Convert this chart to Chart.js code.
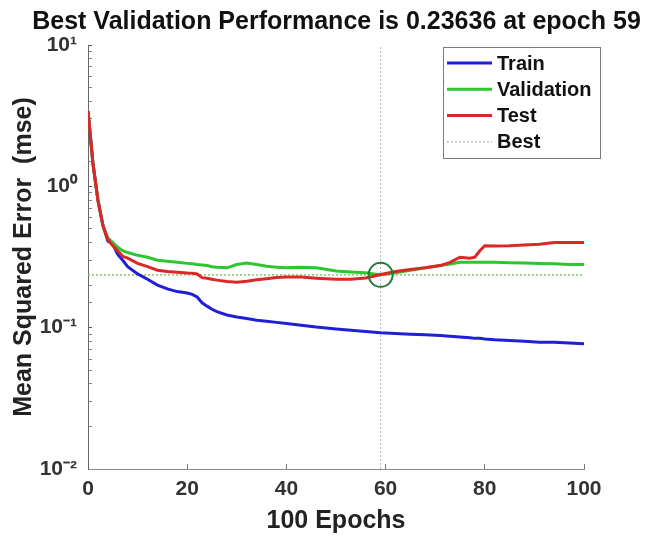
<!DOCTYPE html>
<html>
<head>
<meta charset="utf-8">
<script src="https://cdn.jsdelivr.net/npm/chart.js@4.4.1/dist/chart.umd.min.js"></script>
<style>
  html, body { margin: 0; padding: 0; background: #ffffff; }
  #wrap { width: 645px; height: 540px; }
</style>
</head>
<body>
<div id="wrap"><canvas id="c" width="645" height="540"></canvas></div>
<script>
// ---- data ----
const epochs = [0,1,2,3,4,5,6,7,8,10,12,14,16,18,20,21,22,23,24,25,26,28,30,32,34,36,38,40,43,46,50,53,56,59,62,65,68,71,73,75,77,78,79,80,82,85,88,91,94,97,100];
const trainMse = [3.4,1.45,0.8,0.53,0.41,0.39,0.33,0.30,0.27,0.24,0.22,0.20,0.188,0.18,0.176,0.172,0.165,0.15,0.142,0.135,0.13,0.123,0.119,0.116,0.113,0.111,0.109,0.107,0.104,0.101,0.098,0.096,0.094,0.092,0.091,0.090,0.089,0.088,0.087,0.086,0.085,0.084,0.084,0.083,0.082,0.081,0.080,0.079,0.079,0.078,0.077];
const validationMse = [3.4,1.45,0.8,0.53,0.43,0.40,0.37,0.35,0.34,0.325,0.315,0.30,0.295,0.29,0.285,0.283,0.28,0.278,0.275,0.27,0.268,0.265,0.28,0.287,0.28,0.272,0.268,0.265,0.268,0.265,0.252,0.248,0.245,0.23636,0.245,0.255,0.265,0.275,0.282,0.29,0.29,0.29,0.29,0.29,0.29,0.288,0.287,0.285,0.283,0.28,0.28];
const testMse = [3.4,1.45,0.8,0.53,0.42,0.38,0.35,0.32,0.31,0.285,0.27,0.255,0.25,0.247,0.244,0.243,0.24,0.226,0.224,0.22,0.217,0.212,0.21,0.213,0.218,0.222,0.226,0.228,0.228,0.224,0.22,0.22,0.225,0.238,0.25,0.258,0.265,0.275,0.29,0.315,0.31,0.315,0.35,0.38,0.378,0.38,0.385,0.39,0.40,0.40,0.40];
const bestEpoch = 59;
const bestPerf = 0.23636;
const xTickValues = [0,20,40,60,80,100];
const yRange = [0.01, 10];
const seriesNames = ['Train','Validation','Test','Best'];
const titleText = 'Best Validation Performance is 0.23636 at epoch 59';
const xTitle = '100 Epochs';
const yTitle = 'Mean Squared Error  (mse)';

const FONT = '"Liberation Sans", Arial, Helvetica, sans-serif';
const COLORS = { train: '#1f1fd6', val: '#2fc52f', test: '#dd2626', best: '#9a9a9a', bestH: '#8cc66a', circle: '#217a36' };

function pts(xs, ys) { return xs.map((x, i) => ({ x: x, y: ys[i] })); }

const sup = { '0':'\u2070','1':'\u00B9','2':'\u00B2','3':'\u00B3','-':'\u207B' };
function powLabel(v) {
  const l = Math.log10(v);
  const r = Math.round(l);
  if (Math.abs(l - r) > 1e-9) return '';
  return '10' + String(r).split('').map(ch => sup[ch] || ch).join('');
}

// custom boxed legend (MATLAB style)
const boxLegend = {
  id: 'boxLegend',
  afterDraw(chart) {
    const ctx = chart.ctx;
    const items = chart.data.datasets.filter(d => d.inLegend).sort((a, b) => a.legendOrder - b.legendOrder);
    const left = 443, top = 47, w = 157, rowH = 26.3;
    const h = 111;
    ctx.save();
    ctx.fillStyle = '#ffffff';
    ctx.fillRect(left, top, w, h);
    ctx.strokeStyle = '#7a7a7a';
    ctx.lineWidth = 1;
    ctx.strokeRect(left + 0.5, top + 0.5, w, h);
    ctx.font = 'bold 20px ' + FONT;
    ctx.textBaseline = 'middle';
    ctx.textAlign = 'left';
    items.forEach((d, i) => {
      const y = top + 16 + i * rowH;
      ctx.beginPath();
      ctx.setLineDash(d.legendDash || []);
      ctx.strokeStyle = d.legendColor || d.borderColor;
      ctx.lineWidth = d.legendWidth || d.borderWidth;
      ctx.moveTo(left + 4, y);
      ctx.lineTo(left + 49, y);
      ctx.stroke();
      ctx.setLineDash([]);
      ctx.fillStyle = '#111';
      ctx.fillText(d.label, left + 54, y + 1);
    });
    ctx.restore();
  }
};

const lineBase = { showLine: true, pointRadius: 0, pointHoverRadius: 0, fill: false, tension: 0, borderWidth: 3 };

new Chart(document.getElementById('c'), {
  type: 'scatter',
  data: {
    datasets: [
      { label: 'bestPoint', data: [{ x: bestEpoch, y: bestPerf }], showLine: false, pointRadius: 12, pointHoverRadius: 12,
        pointStyle: 'circle', backgroundColor: 'rgba(0,0,0,0)', borderColor: COLORS.circle, borderWidth: 2 },
      Object.assign({ label: seriesNames[2], data: pts(epochs, testMse), borderColor: COLORS.test, inLegend: true, legendOrder: 2 }, lineBase),
      Object.assign({ label: seriesNames[1], data: pts(epochs, validationMse), borderColor: COLORS.val, inLegend: true, legendOrder: 1 }, lineBase),
      Object.assign({ label: seriesNames[0], data: pts(epochs, trainMse), borderColor: COLORS.train, inLegend: true, legendOrder: 0 }, lineBase),
      Object.assign({}, lineBase, { label: seriesNames[3], data: [{ x: xTickValues[0], y: bestPerf }, { x: xTickValues[xTickValues.length - 1], y: bestPerf }],
        borderColor: COLORS.bestH, borderWidth: 1.5, borderDash: [2, 2], inLegend: true, legendOrder: 3,
        legendColor: COLORS.best, legendWidth: 1, legendDash: [2, 2] }),
      Object.assign({}, lineBase, { label: 'bestEpoch', data: [{ x: bestEpoch, y: yRange[0] }, { x: bestEpoch, y: yRange[1] }],
        borderColor: '#b5b5b5', borderWidth: 1, borderDash: [2, 2] })
    ]
  },
  options: {
    responsive: false,
    animation: false,
    devicePixelRatio: 1,
    layout: { padding: { left: 28, right: 0, top: 0, bottom: 0 } },
    plugins: {
      legend: { display: false },
      tooltip: { enabled: false },
      title: {
        display: true, text: titleText, fullSize: true, color: '#111',
        font: { family: FONT, size: 25, weight: 'bold', lineHeight: 1.2 },
        padding: { top: 7, bottom: 8 }
      }
    },
    scales: {
      x: {
        type: 'linear', min: 0, max: 100,
        afterBuildTicks(scale) { scale.ticks = xTickValues.map(v => ({ value: v })); },
        afterFit(scale) { scale.height = 71; },
        ticks: { color: '#333', font: { family: FONT, size: 21, weight: 'bold' }, padding: 13, maxRotation: 0, autoSkip: false },
        grid: { drawOnChartArea: false, drawTicks: true, tickLength: -5, color: '#777' },
        border: { display: true, color: '#8a8a8a', width: 1 },
        title: { display: true, text: xTitle, color: '#222', font: { family: FONT, size: 25, weight: 'bold' }, padding: { top: 0, bottom: 4 } }
      },
      y: {
        type: 'logarithmic', min: yRange[0], max: yRange[1],
        afterFit(scale) { scale.width = 60; },
        ticks: {
          color: '#333', font: { family: FONT, size: 21, weight: 'bold' }, padding: 15, autoSkip: false,
          callback: (v) => powLabel(v)
        },
        grid: {
          drawOnChartArea: false, drawTicks: true, tickLength: -4,
          color: (c) => (c.tick && powLabel(c.tick.value) ? '#555' : '#888')
        },
        border: { display: true, color: '#666', width: 1 },
        title: { display: true, text: yTitle, color: '#222', font: { family: FONT, size: 25, weight: 'bold' }, padding: { top: -19, bottom: 0 } }
      },
      yRightSpace: {
        type: 'linear', position: 'right', display: true,
        afterFit(scale) { scale.width = 61; },
        ticks: { display: false },
        grid: { display: false, drawTicks: false },
        border: { display: false }
      }
    }
  },
  plugins: [boxLegend]
});
</script>
</body>
</html>
